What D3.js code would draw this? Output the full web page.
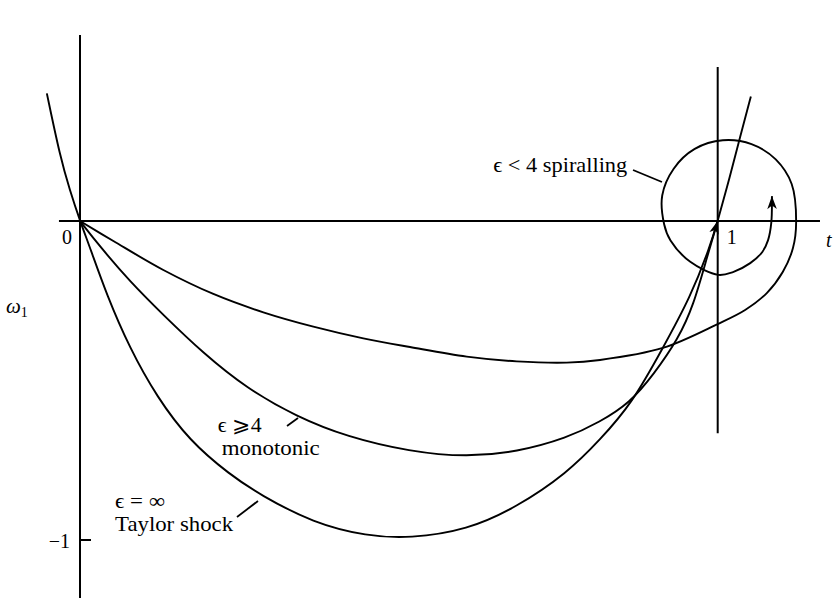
<!DOCTYPE html>
<html>
<head>
<meta charset="utf-8">
<script src="https://cdn.jsdelivr.net/npm/d3@7"></script>
<style>
  html, body { margin: 0; padding: 0; background: #fff; }
  svg { display: block; }
  text { font-family: "Liberation Serif", "DejaVu Serif", serif; fill: #000; }
</style>
</head>
<body>
<svg id="chart" width="834" height="600"></svg>
<script>
// Phase-plane trajectories (u, ω1) from the origin to the point (1, 0)

// ε = ∞, Taylor shock
const taylorU = [-0.052, -0.031, -0.016, 0, 0.016, 0.042, 0.078, 0.120, 0.172, 0.235, 0.282, 0.366, 0.45, 0.517, 0.607, 0.685, 0.764, 0.815, 0.866, 0.914, 0.957, 0.988, 1, 1.019, 1.035, 1.052];
const taylorW = [0.40, 0.20, 0.097, 0, -0.085, -0.232, -0.399, -0.55, -0.69, -0.795, -0.858, -0.947, -0.988, -0.995, -0.969, -0.897, -0.79, -0.687, -0.571, -0.398, -0.24, -0.08, 0, 0.138, 0.263, 0.39];

// ε ⩾ 4, monotonic
const monoU = [0, 0.0314, 0.0784, 0.1307, 0.1934, 0.2614, 0.3398, 0.4182, 0.5175, 0.607, 0.685, 0.764, 0.815, 0.862, 0.90, 0.938, 0.962, 0.983, 1];
const monoW = [0, -0.0805, -0.190, -0.2947, -0.4148, -0.5246, -0.6134, -0.6761, -0.7231, -0.740, -0.724, -0.680, -0.630, -0.571, -0.48, -0.37, -0.265, -0.115, 0];

// ε < 4, spiralling into (1, 0)
const spiralU = [0, 0.0523, 0.1307, 0.2091, 0.2875, 0.3659, 0.4443, 0.5175, 0.6064, 0.6848, 0.7632, 0.8154, 0.914, 1.000, 1.043, 1.077, 1.102, 1.118, 1.123,
  1.116, 1.091, 1.053, 1.008, 0.964, 0.931, 0.913, 0.916, 0.926, 0.957, 1.001, 1.024, 1.051, 1.070, 1.079, 1.084, 1.085];
const spiralW = [0, -0.0627, -0.1536, -0.2288, -0.2863, -0.3312, -0.3678, -0.395, -0.425, -0.440, -0.444, -0.4357, -0.398, -0.323, -0.279, -0.226, -0.160, -0.085, -0.003,
  0.116, 0.193, 0.241, 0.253, 0.226, 0.164, 0.080, -0.010, -0.061, -0.128, -0.169, -0.160, -0.132, -0.097, -0.060, -0.006, 0.078];

// tick labels
const uTicks = [0, 1];
const uTickLabels = ["0", "1"];
const wTicks = [-1];
const wTickLabels = ["−1"];

const svg = d3.select("#chart");
const x = d3.scaleLinear().domain([0, 1]).range([80, 717.7]);
const y = d3.scaleLinear().domain([0, -1]).range([221, 540]);

const zip = (us, ws) => us.map((u, i) => [u, ws[i]]);
const smooth = d3.line().x(d => x(d[0])).y(d => y(d[1])).curve(d3.curveBasis);
const through = d3.line().x(d => x(d[0])).y(d => y(d[1])).curve(d3.curveCatmullRom.alpha(0.5));

// arrowhead
svg.append("defs").append("marker")
  .attr("id", "head")
  .attr("markerUnits", "userSpaceOnUse")
  .attr("viewBox", "-14 -6 15 12")
  .attr("markerWidth", 15).attr("markerHeight", 12)
  .attr("refX", 0).attr("refY", 0)
  .attr("orient", "auto")
  .append("path")
  .attr("d", "M0,0 L-13,-4.8 L-9.5,0 L-13,4.8 Z")
  .attr("fill", "#000");

const axes = svg.append("g").attr("stroke", "#000").attr("stroke-width", 2);
// u axis
axes.append("line").attr("x1", x(-0.033)).attr("x2", x(1.1604)).attr("y1", y(0)).attr("y2", y(0));
// ω1 axis
axes.append("line").attr("x1", x(0)).attr("x2", x(0)).attr("y1", y(0.583)).attr("y2", y(-1.182));
// u = 1
axes.append("line").attr("x1", x(1)).attr("x2", x(1)).attr("y1", y(0.483)).attr("y2", y(-0.665));
// tick at ω1 = -1
axes.selectAll("line.wtick").data(wTicks).join("line").attr("class", "wtick")
  .attr("x1", x(0)).attr("x2", x(0) + 11).attr("y1", d => y(d)).attr("y2", d => y(d));

const curves = svg.append("g").attr("fill", "none").attr("stroke", "#000").attr("stroke-width", 1.9);
curves.append("path").attr("d", smooth(zip(taylorU, taylorW)));
curves.append("path").attr("d", smooth(zip(monoU, monoW))).attr("marker-end", "url(#head)");
curves.append("path").attr("d", through(zip(spiralU, spiralW))).attr("marker-end", "url(#head)");

// tick labels
svg.selectAll("text.ut").data(uTicks).join("text").attr("class", "ut")
  .attr("x", (d, i) => i === 0 ? x(d) - 8 : x(d) + 9)
  .attr("y", y(0) + 23)
  .attr("text-anchor", (d, i) => i === 0 ? "end" : "start")
  .attr("font-size", 20)
  .text((d, i) => uTickLabels[i]);
svg.selectAll("text.wt").data(wTicks).join("text").attr("class", "wt")
  .attr("x", x(0) - 10).attr("y", d => y(d) + 8)
  .attr("text-anchor", "end").attr("font-size", 20)
  .text((d, i) => wTickLabels[i]);

// axis names
svg.append("text").attr("x", x(1.1604) + 6).attr("y", y(0) + 26)
  .attr("font-size", 20).attr("font-style", "italic").text("t");
const wl = svg.append("text").attr("x", 6).attr("y", 313).attr("font-size", 21);
wl.append("tspan").attr("font-style", "italic").text("ω");
wl.append("tspan").attr("font-size", 14).attr("dy", 4).text("1");

// annotations with leader lines
const notes = [
  { lines: ["ϵ < 4 spiralling"], widths: [134], u: 0.648, w: 0.154, lead: [[0.8672, 0.1599], [0.9126, 0.1223]] },
  { lines: ["ϵ ⩾4", "monotonic"], widths: [44, 98], u: 0.216, w: -0.662, lead: [[0.3246, -0.6426], [0.3419, -0.6176]] },
  { lines: ["ϵ = ∞", "Taylor shock"], widths: [50, 118], u: 0.055, w: -0.9, lead: [[0.2462, -0.9279], [0.2791, -0.8777]] }
];
notes.forEach(n => {
  n.lines.forEach((s, i) => {
    svg.append("text").attr("font-size", 21)
      .attr("x", x(n.u) + (i === 1 && n.lines[0].startsWith("ϵ ⩾") ? 4 : 0))
      .attr("y", y(n.w) + i * 23)
      .attr("textLength", n.widths[i]).attr("lengthAdjust", "spacingAndGlyphs")
      .text(s);
  });
  svg.append("line")
    .attr("x1", x(n.lead[0][0])).attr("y1", y(n.lead[0][1]))
    .attr("x2", x(n.lead[1][0])).attr("y2", y(n.lead[1][1]))
    .attr("stroke", "#000").attr("stroke-width", 1.8);
});
</script>
</body>
</html>
